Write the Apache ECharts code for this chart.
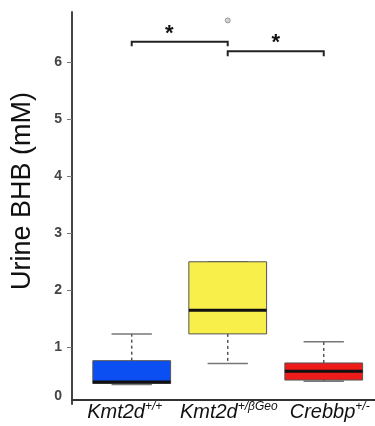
<!DOCTYPE html>
<html>
<head>
<meta charset="utf-8">
<script src="https://cdn.jsdelivr.net/npm/echarts@6/dist/echarts.min.js"></script>
<style>
  html, body { margin: 0; padding: 0; background: #fff; }
  #chart { width: 375px; height: 426px; }
</style>
</head>
<body>
<div id="chart"></div>
<script>
// groups (x positions 1..3)
const groups = ['Kmt2d', 'Kmt2d', 'Crebbp'];
const groupSup = ['+/+', '+/βGeo', '+/-'];
// five-number summaries (mM)
const boxMin = [0.34, 0.71, 0.40];
const boxQ1 = [0.36, 1.23, 0.42];
const boxMedian = [0.385, 1.645, 0.575];
const boxQ3 = [0.76, 2.495, 0.72];
const boxMax = [1.23, 2.495, 1.09];
// outlier points [group, value]
const outliers = [[2, 6.73]];
// significance brackets: from group, to group, bar level, leg end
const bracketFrom = [1, 2];
const bracketTo = [2, 3];
const bracketTop = [6.355, 6.19];
const bracketLeg = [6.277, 6.10];
const starText = ['*', '*'];
const starX = [1.39, 2.5];
const starLevel = [6.50, 6.34];
const yLabels = [0, 1, 2, 3, 4, 5, 6];
const yTicks = [1, 2, 3, 4, 5, 6];

const boxColors = ['#0b4ff2', '#f8ef4a', '#ee1b1b'];
const font = "'Liberation Sans', Arial, sans-serif";

const boxData = groups.map((g, i) => [i + 1, boxMin[i], boxQ1[i], boxMedian[i], boxQ3[i], boxMax[i]]);
const bracketData = bracketFrom.map((f, i) => [f, bracketTo[i], bracketTop[i], bracketLeg[i], starX[i], starLevel[i], i]);

let chart = echarts.init(document.getElementById('chart'));

function renderBox(params, api) {
  const x = api.value(0);
  const band = api.size([1, 0])[0];
  const bw = band * 0.81;
  const cw = band * 0.42;
  const pMin = api.coord([x, api.value(1)]);
  const pQ1 = api.coord([x, api.value(2)]);
  const pMed = api.coord([x, api.value(3)]);
  const pQ3 = api.coord([x, api.value(4)]);
  const pMax = api.coord([x, api.value(5)]);
  const cx = pMin[0];
  const whisker = { stroke: '#555', lineWidth: 1.5, lineDash: [3, 3] };
  const cap = { stroke: '#777', lineWidth: 1.5 };
  return {
    type: 'group',
    children: [
      { type: 'line', shape: { x1: cx, y1: pQ3[1], x2: cx, y2: pMax[1] }, style: whisker },
      { type: 'line', shape: { x1: cx, y1: pQ1[1], x2: cx, y2: pMin[1] }, style: whisker },
      { type: 'line', shape: { x1: cx - cw / 2, y1: pMax[1], x2: cx + cw / 2, y2: pMax[1] }, style: cap },
      { type: 'line', shape: { x1: cx - cw / 2, y1: pMin[1], x2: cx + cw / 2, y2: pMin[1] }, style: cap },
      {
        type: 'rect',
        shape: { x: cx - bw / 2, y: pQ3[1], width: bw, height: pQ1[1] - pQ3[1] },
        style: { fill: boxColors[params.dataIndex], stroke: '#555', lineWidth: 1 }
      },
      { type: 'line', shape: { x1: cx - bw / 2, y1: pMed[1], x2: cx + bw / 2, y2: pMed[1] }, style: { stroke: '#111', lineWidth: 3 } }
    ]
  };
}

function renderBracket(params, api) {
  const a = api.coord([api.value(0), api.value(2)]);
  const b = api.coord([api.value(1), api.value(2)]);
  const legY = api.coord([api.value(0), api.value(3)])[1];
  const s = api.coord([api.value(4), api.value(5)]);
  return {
    type: 'group',
    children: [
      {
        type: 'polyline',
        shape: { points: [[a[0], legY], [a[0], a[1]], [b[0], b[1]], [b[0], legY]] },
        style: { stroke: '#222', lineWidth: 2, fill: null }
      },
      {
        type: 'text',
        x: s[0], y: s[1],
        style: { text: starText[api.value(6)], fill: '#111', font: 'bold 22px ' + font, align: 'center', verticalAlign: 'middle' }
      }
    ]
  };
}

const italic = { fontFamily: font, fontStyle: 'italic', color: '#111' };

chart.setOption({
  animation: false,
  grid: { left: 72, right: 0, top: 12, bottom: 22, outerBoundsMode: 'none', containLabel: false },
  xAxis: {
    type: 'value',
    min: 0.378,
    max: 3.534,
    offset: -4,
    splitLine: { show: false },
    axisTick: { show: false },
    axisLine: { show: true, lineStyle: { color: '#333', width: 2 } },
    axisLabel: {
      customValues: [1, 2, 3],
      margin: 1,
      hideOverlap: false,
      showMinLabel: true,
      showMaxLabel: true,
      formatter: function (v) {
        const i = Math.round(v) - 1;
        return '{m' + i + '|' + groups[i] + '}{s' + i + '|' + groupSup[i] + '}';
      },
      rich: {
        m0: Object.assign({ fontSize: 20, lineHeight: 22 }, italic),
        s0: Object.assign({ fontSize: 12, lineHeight: 12, verticalAlign: 'top', padding: [0, 14, 0, 0] }, italic),
        m1: Object.assign({ fontSize: 20, lineHeight: 22, padding: [0, 0, 0, 2] }, italic),
        s1: Object.assign({ fontSize: 12, lineHeight: 12, verticalAlign: 'top' }, italic),
        m2: Object.assign({ fontSize: 20, lineHeight: 22, padding: [0, 0, 0, 12] }, italic),
        s2: Object.assign({ fontSize: 12, lineHeight: 12, verticalAlign: 'top' }, italic)
      }
    }
  },
  yAxis: {
    type: 'value',
    min: 0,
    max: 6.877,
    name: 'Urine BHB (mM)',
    nameLocation: 'middle',
    nameRotate: 90,
    nameGap: 36,
    nameTextStyle: { fontFamily: font, fontSize: 27, color: '#111', padding: [0, 0, 0, 34] },
    splitLine: { show: false },
    axisLine: { show: true, lineStyle: { color: '#444', width: 2 } },
    axisTick: { show: true, inside: false, length: 5, customValues: yTicks, lineStyle: { color: '#777', width: 1 } },
    axisLabel: {
      customValues: yLabels,
      margin: 10,
      color: '#444',
      fontFamily: font,
      fontSize: 14,
      fontWeight: 'bold',
      formatter: function (v) {
        return v === 0 ? '{z|0}' : String(v);
      },
      rich: {
        z: { fontFamily: font, fontSize: 14, fontWeight: 'bold', color: '#444', padding: [0, 0, 16, 0] }
      }
    }
  },
  series: [
    {
      type: 'custom',
      renderItem: renderBox,
      data: boxData,
      encode: { x: 0, y: [1, 2, 3, 4, 5] },
      z: 2
    },
    {
      type: 'scatter',
      data: outliers,
      symbol: 'circle',
      symbolSize: 5,
      itemStyle: { color: '#c8c8c8', borderColor: '#888', borderWidth: 1 },
      z: 3
    },
    {
      type: 'custom',
      renderItem: renderBracket,
      data: bracketData,
      encode: { x: [0, 1, 4], y: [2, 3, 5] },
      clip: false,
      z: 3
    }
  ]
});
</script>
</body>
</html>
